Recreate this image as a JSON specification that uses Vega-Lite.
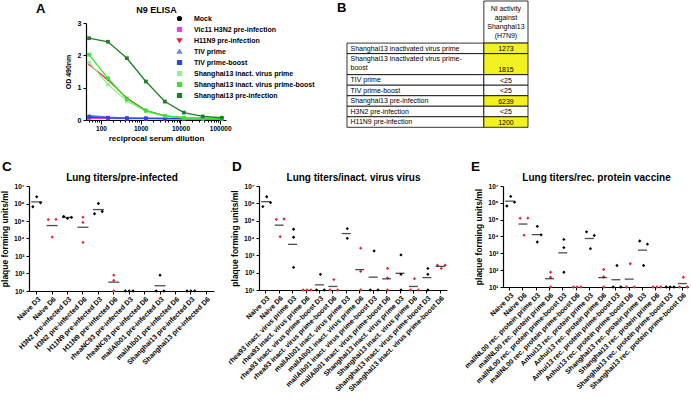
{
"$schema": "https://vega.github.io/schema/vega-lite/v6.json",
"padding": {"left": 0, "top": 0, "right": 0, "bottom": 0},
"config": {
  "font": "Liberation Sans",
  "view": {"stroke": null},
  "axis": {"grid": false, "labelFontWeight": "bold", "titleFontWeight": "bold", "domainColor": "#000", "tickColor": "#000", "labelColor": "#000", "titleColor": "#000", "domainWidth": 1.2, "tickWidth": 1},
  "legend": {"labelColor": "#000"},
  "title": {"color": "#000"}
},
"datasets": {
  "elisa": [
    {"serum":"Mock","dil":50,"od":0.07},{"serum":"Mock","dil":150,"od":0.06},{"serum":"Mock","dil":450,"od":0.05},{"serum":"Mock","dil":1350,"od":0.05},{"serum":"Mock","dil":4050,"od":0.04},{"serum":"Mock","dil":12150,"od":0.04},{"serum":"Mock","dil":36450,"od":0.04},{"serum":"Mock","dil":109350,"od":0.04},
    {"serum":"Vic11 H3N2 pre-infection","dil":50,"od":0.05},{"serum":"Vic11 H3N2 pre-infection","dil":150,"od":0.05},{"serum":"Vic11 H3N2 pre-infection","dil":450,"od":0.04},{"serum":"Vic11 H3N2 pre-infection","dil":1350,"od":0.04},{"serum":"Vic11 H3N2 pre-infection","dil":4050,"od":0.04},{"serum":"Vic11 H3N2 pre-infection","dil":12150,"od":0.04},{"serum":"Vic11 H3N2 pre-infection","dil":36450,"od":0.04},{"serum":"Vic11 H3N2 pre-infection","dil":109350,"od":0.04},
    {"serum":"TIV prime","dil":50,"od":0.14},{"serum":"TIV prime","dil":150,"od":0.09},{"serum":"TIV prime","dil":450,"od":0.06},{"serum":"TIV prime","dil":1350,"od":0.05},{"serum":"TIV prime","dil":4050,"od":0.05},{"serum":"TIV prime","dil":12150,"od":0.05},{"serum":"TIV prime","dil":36450,"od":0.04},{"serum":"TIV prime","dil":109350,"od":0.04},
    {"serum":"TIV prime-boost","dil":50,"od":0.10},{"serum":"TIV prime-boost","dil":150,"od":0.07},{"serum":"TIV prime-boost","dil":450,"od":0.06},{"serum":"TIV prime-boost","dil":1350,"od":0.05},{"serum":"TIV prime-boost","dil":4050,"od":0.05},{"serum":"TIV prime-boost","dil":12150,"od":0.04},{"serum":"TIV prime-boost","dil":36450,"od":0.04},{"serum":"TIV prime-boost","dil":109350,"od":0.04},
    {"serum":"H11N9 pre-infection","dil":50,"od":1.72},{"serum":"H11N9 pre-infection","dil":150,"od":1.24},{"serum":"H11N9 pre-infection","dil":450,"od":0.67},{"serum":"H11N9 pre-infection","dil":1350,"od":0.30},{"serum":"H11N9 pre-infection","dil":4050,"od":0.13},{"serum":"H11N9 pre-infection","dil":12150,"od":0.07},{"serum":"H11N9 pre-infection","dil":36450,"od":0.05},{"serum":"H11N9 pre-infection","dil":109350,"od":0.05},
    {"serum":"Shanghai13 inact. virus prime","dil":50,"od":1.78},{"serum":"Shanghai13 inact. virus prime","dil":150,"od":1.10},{"serum":"Shanghai13 inact. virus prime","dil":450,"od":0.58},{"serum":"Shanghai13 inact. virus prime","dil":1350,"od":0.27},{"serum":"Shanghai13 inact. virus prime","dil":4050,"od":0.12},{"serum":"Shanghai13 inact. virus prime","dil":12150,"od":0.07},{"serum":"Shanghai13 inact. virus prime","dil":36450,"od":0.05},{"serum":"Shanghai13 inact. virus prime","dil":109350,"od":0.05},
    {"serum":"Shanghai13 inact. virus prime-boost","dil":50,"od":2.02},{"serum":"Shanghai13 inact. virus prime-boost","dil":150,"od":1.29},{"serum":"Shanghai13 inact. virus prime-boost","dil":450,"od":0.64},{"serum":"Shanghai13 inact. virus prime-boost","dil":1350,"od":0.29},{"serum":"Shanghai13 inact. virus prime-boost","dil":4050,"od":0.12},{"serum":"Shanghai13 inact. virus prime-boost","dil":12150,"od":0.07},{"serum":"Shanghai13 inact. virus prime-boost","dil":36450,"od":0.05},{"serum":"Shanghai13 inact. virus prime-boost","dil":109350,"od":0.05},
    {"serum":"Shanghai13 pre-infection","dil":50,"od":2.53},{"serum":"Shanghai13 pre-infection","dil":150,"od":2.42},{"serum":"Shanghai13 pre-infection","dil":450,"od":1.91},{"serum":"Shanghai13 pre-infection","dil":1350,"od":1.19},{"serum":"Shanghai13 pre-infection","dil":4050,"od":0.57},{"serum":"Shanghai13 pre-infection","dil":12150,"od":0.23},{"serum":"Shanghai13 pre-infection","dil":36450,"od":0.11},{"serum":"Shanghai13 pre-infection","dil":109350,"od":0.07}
  ],
  "nitable": [
    {"label": null, "value": "NI activity\nagainst\nShanghai13\n(H7N9)", "top": 0, "bottom": 4, "hl": false},
    {"label": "Shanghai13 inactivated virus prime", "value": "1273", "top": 4, "bottom": 5, "hl": true},
    {"label": "Shanghai13 inactivated virus prime-\nboost", "value": "1815", "top": 5, "bottom": 7, "hl": true},
    {"label": "TIV prime", "value": "<25", "top": 7, "bottom": 8, "hl": false},
    {"label": "TIV prime-boost", "value": "<25", "top": 8, "bottom": 9, "hl": false},
    {"label": "Shanghai13 pre-infection", "value": "6239", "top": 9, "bottom": 10, "hl": true},
    {"label": "H3N2 pre-infection", "value": "<25", "top": 10, "bottom": 11, "hl": false},
    {"label": "H11N9 pre-infection", "value": "1200", "top": 11, "bottom": 12, "hl": true}
  ],
  "titers": [
    {"p":"C","g":"Naive D3","m":1,"v":650000},{"p":"C","g":"Naive D3","m":2,"v":2400000},{"p":"C","g":"Naive D3","m":3,"v":1100000},
    {"p":"C","g":"Naive D6","m":1,"v":120000},{"p":"C","g":"Naive D6","m":2,"v":12000},{"p":"C","g":"Naive D6","m":3,"v":125000},
    {"p":"C","g":"H3N2 pre-infected D3","m":1,"v":180000},{"p":"C","g":"H3N2 pre-infected D3","m":2,"v":140000},{"p":"C","g":"H3N2 pre-infected D3","m":3,"v":160000},
    {"p":"C","g":"H3N2 pre-infected D6","m":2,"v":165000},{"p":"C","g":"H3N2 pre-infected D6","m":2,"v":83000},{"p":"C","g":"H3N2 pre-infected D6","m":2,"v":6000},
    {"p":"C","g":"H11N9 pre-infected D3","m":1,"v":260000},{"p":"C","g":"H11N9 pre-infected D3","m":2,"v":1000000},{"p":"C","g":"H11N9 pre-infected D3","m":3,"v":350000},
    {"p":"C","g":"H11N9 pre-infected D6","m":2,"v":80},{"p":"C","g":"H11N9 pre-infected D6","m":2,"v":40},{"p":"C","g":"H11N9 pre-infected D6","m":2,"v":10},
    {"p":"C","g":"rheaNC93 pre-infected D3","m":1,"v":10},{"p":"C","g":"rheaNC93 pre-infected D3","m":2,"v":10},{"p":"C","g":"rheaNC93 pre-infected D3","m":3,"v":10},
    {"p":"C","g":"mallAlb01 pre-infected D3","m":1,"v":10},{"p":"C","g":"mallAlb01 pre-infected D3","m":2,"v":80},{"p":"C","g":"mallAlb01 pre-infected D3","m":3,"v":10},
    {"p":"C","g":"Shanghai13 pre-infected D3","m":1,"v":10},{"p":"C","g":"Shanghai13 pre-infected D3","m":2,"v":10},{"p":"C","g":"Shanghai13 pre-infected D3","m":3,"v":10},
    {"p":"D","g":"Naive D3","m":1,"v":650000},{"p":"D","g":"Naive D3","m":2,"v":2400000},{"p":"D","g":"Naive D3","m":3,"v":1100000},
    {"p":"D","g":"Naive D6","m":1,"v":120000},{"p":"D","g":"Naive D6","m":2,"v":12000},{"p":"D","g":"Naive D6","m":3,"v":125000},
    {"p":"D","g":"rhea93 inact. virus prime D3","m":2,"v":32000},{"p":"D","g":"rhea93 inact. virus prime D3","m":2,"v":11000},{"p":"D","g":"rhea93 inact. virus prime D3","m":2,"v":200},
    {"p":"D","g":"rhea93 inact. virus prime D6","m":1,"v":10},{"p":"D","g":"rhea93 inact. virus prime D6","m":2,"v":10},{"p":"D","g":"rhea93 inact. virus prime D6","m":3,"v":10},
    {"p":"D","g":"rhea93 inact. virus prime-boost D3","m":1,"v":10},{"p":"D","g":"rhea93 inact. virus prime-boost D3","m":2,"v":80},{"p":"D","g":"rhea93 inact. virus prime-boost D3","m":3,"v":10},
    {"p":"D","g":"rhea93 inact. virus prime-boost D6","m":1,"v":10},{"p":"D","g":"rhea93 inact. virus prime-boost D6","m":2,"v":40},{"p":"D","g":"rhea93 inact. virus prime-boost D6","m":3,"v":10},
    {"p":"D","g":"mallAlb01 inact. virus prime D3","m":2,"v":35000},{"p":"D","g":"mallAlb01 inact. virus prime D3","m":2,"v":9600},
    {"p":"D","g":"mallAlb01 inact. virus prime D6","m":2,"v":2600},{"p":"D","g":"mallAlb01 inact. virus prime D6","m":2,"v":120},{"p":"D","g":"mallAlb01 inact. virus prime D6","m":2,"v":10},
    {"p":"D","g":"mallAlb01 inact. virus prime-boost D3","m":1,"v":10},{"p":"D","g":"mallAlb01 inact. virus prime-boost D3","m":2,"v":1800},{"p":"D","g":"mallAlb01 inact. virus prime-boost D3","m":3,"v":10},
    {"p":"D","g":"mallAlb01 inact. virus prime-boost D6","m":2,"v":175},{"p":"D","g":"mallAlb01 inact. virus prime-boost D6","m":2,"v":50},{"p":"D","g":"mallAlb01 inact. virus prime-boost D6","m":2,"v":10},
    {"p":"D","g":"Shanghai13 inact. virus prime D3","m":2,"v":1050},{"p":"D","g":"Shanghai13 inact. virus prime D3","m":2,"v":80},{"p":"D","g":"Shanghai13 inact. virus prime D3","m":2,"v":10},
    {"p":"D","g":"Shanghai13 inact. virus prime D6","m":1,"v":10},{"p":"D","g":"Shanghai13 inact. virus prime D6","m":2,"v":45},{"p":"D","g":"Shanghai13 inact. virus prime D6","m":3,"v":10},
    {"p":"D","g":"Shanghai13 inact. virus prime-boost D3","m":2,"v":175},{"p":"D","g":"Shanghai13 inact. virus prime-boost D3","m":2,"v":80},{"p":"D","g":"Shanghai13 inact. virus prime-boost D3","m":2,"v":10},
    {"p":"D","g":"Shanghai13 inact. virus prime-boost D6","m":1,"v":270},{"p":"D","g":"Shanghai13 inact. virus prime-boost D6","m":3,"v":270},{"p":"D","g":"Shanghai13 inact. virus prime-boost D6","m":2,"v":175},
    {"p":"E","g":"Naive D3","m":1,"v":650000},{"p":"E","g":"Naive D3","m":2,"v":2400000},{"p":"E","g":"Naive D3","m":3,"v":1100000},
    {"p":"E","g":"Naive D6","m":1,"v":120000},{"p":"E","g":"Naive D6","m":2,"v":12000},{"p":"E","g":"Naive D6","m":3,"v":125000},
    {"p":"E","g":"mallNL00 rec. protein prime D3","m":2,"v":40000},{"p":"E","g":"mallNL00 rec. protein prime D3","m":3,"v":12500},{"p":"E","g":"mallNL00 rec. protein prime D3","m":2,"v":4700},
    {"p":"E","g":"mallNL00 rec. protein prime D6","m":2,"v":75},{"p":"E","g":"mallNL00 rec. protein prime D6","m":2,"v":38},{"p":"E","g":"mallNL00 rec. protein prime D6","m":2,"v":10},
    {"p":"E","g":"mallNL00 rec. protein prime-boost D3","m":2,"v":6700},{"p":"E","g":"mallNL00 rec. protein prime-boost D3","m":2,"v":2200},{"p":"E","g":"mallNL00 rec. protein prime-boost D3","m":2,"v":75},
    {"p":"E","g":"mallNL00 rec. protein prime-boost D6","m":1,"v":10},{"p":"E","g":"mallNL00 rec. protein prime-boost D6","m":2,"v":10},{"p":"E","g":"mallNL00 rec. protein prime-boost D6","m":3,"v":10},
    {"p":"E","g":"Anhui13 rec. protein prime D3","m":1,"v":19000},{"p":"E","g":"Anhui13 rec. protein prime D3","m":3,"v":11500},{"p":"E","g":"Anhui13 rec. protein prime D3","m":2,"v":1900},
    {"p":"E","g":"Anhui13 rec. protein prime D6","m":2,"v":110},{"p":"E","g":"Anhui13 rec. protein prime D6","m":2,"v":40},{"p":"E","g":"Anhui13 rec. protein prime D6","m":2,"v":10},
    {"p":"E","g":"Anhui13 rec. protein prime-boost D3","m":1,"v":10},{"p":"E","g":"Anhui13 rec. protein prime-boost D3","m":2,"v":190},{"p":"E","g":"Anhui13 rec. protein prime-boost D3","m":3,"v":10},
    {"p":"E","g":"Anhui13 rec. protein prime-boost D6","m":1,"v":10},{"p":"E","g":"Anhui13 rec. protein prime-boost D6","m":2,"v":240},{"p":"E","g":"Anhui13 rec. protein prime-boost D6","m":3,"v":10},
    {"p":"E","g":"Shanghai13 rec. protein prime D3","m":1,"v":5400},{"p":"E","g":"Shanghai13 rec. protein prime D3","m":3,"v":3500},{"p":"E","g":"Shanghai13 rec. protein prime D3","m":2,"v":190},
    {"p":"E","g":"Shanghai13 rec. protein prime D6","m":1,"v":10},{"p":"E","g":"Shanghai13 rec. protein prime D6","m":2,"v":10},{"p":"E","g":"Shanghai13 rec. protein prime D6","m":3,"v":10},
    {"p":"E","g":"Shanghai13 rec. protein prime-boost D3","m":1,"v":10},{"p":"E","g":"Shanghai13 rec. protein prime-boost D3","m":2,"v":10},{"p":"E","g":"Shanghai13 rec. protein prime-boost D3","m":3,"v":10},
    {"p":"E","g":"Shanghai13 rec. protein prime-boost D6","m":1,"v":10},{"p":"E","g":"Shanghai13 rec. protein prime-boost D6","m":2,"v":38},{"p":"E","g":"Shanghai13 rec. protein prime-boost D6","m":3,"v":10}
  ],
  "means": [
    {"p":"C","g":"Naive D3","v":1250000},{"p":"C","g":"Naive D6","v":55000},{"p":"C","g":"H3N2 pre-infected D3","v":160000},{"p":"C","g":"H3N2 pre-infected D6","v":44000},{"p":"C","g":"H11N9 pre-infected D3","v":450000},{"p":"C","g":"H11N9 pre-infected D6","v":32},{"p":"C","g":"mallAlb01 pre-infected D3","v":20},
    {"p":"D","g":"Naive D3","v":1250000},{"p":"D","g":"Naive D6","v":55000},{"p":"D","g":"rhea93 inact. virus prime D3","v":4300},{"p":"D","g":"rhea93 inact. virus prime-boost D3","v":20},{"p":"D","g":"rhea93 inact. virus prime-boost D6","v":16},{"p":"D","g":"mallAlb01 inact. virus prime D3","v":18000},{"p":"D","g":"mallAlb01 inact. virus prime D6","v":150},{"p":"D","g":"mallAlb01 inact. virus prime-boost D3","v":55},{"p":"D","g":"mallAlb01 inact. virus prime-boost D6","v":44},{"p":"D","g":"Shanghai13 inact. virus prime D3","v":92},{"p":"D","g":"Shanghai13 inact. virus prime D6","v":16},{"p":"D","g":"Shanghai13 inact. virus prime-boost D3","v":52},{"p":"D","g":"Shanghai13 inact. virus prime-boost D6","v":230},
    {"p":"E","g":"Naive D3","v":1250000},{"p":"E","g":"Naive D6","v":55000},{"p":"E","g":"mallNL00 rec. protein prime D3","v":13000},{"p":"E","g":"mallNL00 rec. protein prime D6","v":31},{"p":"E","g":"mallNL00 rec. protein prime-boost D3","v":1070},{"p":"E","g":"Anhui13 rec. protein prime D3","v":7600},{"p":"E","g":"Anhui13 rec. protein prime D6","v":36},{"p":"E","g":"Anhui13 rec. protein prime-boost D3","v":27},{"p":"E","g":"Anhui13 rec. protein prime-boost D6","v":29},{"p":"E","g":"Shanghai13 rec. protein prime D3","v":1550},{"p":"E","g":"Shanghai13 rec. protein prime-boost D6","v":16}
  ],
  "nd": [
    {"g":"rheaNC93 pre-infected D6"},{"g":"mallAlb01 pre-infected D6"},{"g":"Shanghai13 pre-infected D6"}
  ]
},
"spacing": 163,
"bounds": "flush",
"vconcat": [
  {
    "spacing": 10,
    "bounds": "flush",
    "hconcat": [
      {"width": 47, "height": 97, "data": {"values": [{"k": 1}]}, "mark": {"type": "point", "opacity": 0}, "encoding": {}},
      {
        "width": 140, "height": 97,
        "title": {"text": "A", "anchor": "start", "frame": "group", "dx": -50, "offset": -21, "fontSize": 13, "fontWeight": "bold", "baseline": "alphabetic"},
        "data": {"name": "elisa"},
        "encoding": {
          "y": {"field": "od", "type": "quantitative", "scale": {"domain": [0, 3], "nice": false}, "axis": {"values": [0,1,2,3], "title": "OD 490nm", "titleFontSize": 7, "labelFontSize": 7, "tickSize": 3, "titlePadding": 6}},
          "color": {"field": "serum", "type": "nominal",
            "scale": {"domain": ["Mock","Vic11 H3N2 pre-infection","H11N9 pre-infection","TIV prime","TIV prime-boost","Shanghai13 inact. virus prime","Shanghai13 inact. virus prime-boost","Shanghai13 pre-infection"],
                      "range": ["#000000","#ee3ee8","#e8282e","#6a86f0","#2a46e6","#98ef8e","#33e633","#1f7f24"]},
            "legend": {"orient": "none", "legendX": 147, "legendY": -8, "title": null, "labelFontSize": 7, "labelFontWeight": "bold", "symbolSize": 14, "rowPadding": 0, "labelOffset": 11}}
        },
        "layer": [
          {"mark": {"type": "line", "strokeWidth": 1.3},
           "encoding": {"x": {"field": "dil", "type": "quantitative", "scale": {"type": "log", "domain": [42, 140000], "nice": false},
             "axis": {"values": [50,60,70,80,90,100,200,300,400,500,600,700,800,900,1000,2000,3000,4000,5000,6000,7000,8000,9000,10000,20000,30000,40000,50000,60000,70000,80000,90000,100000],
                      "labelExpr": "indexof([100,1000,10000,100000], datum.value) >= 0 ? format(datum.value, 'd') : ''",
                      "tickSize": {"condition": {"test": "indexof([100,1000,10000,100000], datum.value) >= 0", "value": 4}, "value": 2},
                      "title": "reciprocal serum dilution", "titleFontSize": 8, "labelFontSize": 6.5, "labelFlush": false, "labelOverlap": false, "titlePadding": 3, "labelPadding": 1}}}},
          {"mark": {"type": "point", "filled": true, "size": 14, "opacity": 1},
           "encoding": {"x": {"field": "dil", "type": "quantitative", "scale": {"type": "log", "domain": [42, 140000], "nice": false},
             "axis": {"orient": "top", "title": "N9 ELISA", "labels": false, "ticks": false, "domain": false, "titleFontSize": 9, "titlePadding": 9, "minExtent": 0, "maxExtent": 0}},
             "shape": {"field": "serum", "type": "nominal",
               "scale": {"domain": ["Mock","Vic11 H3N2 pre-infection","H11N9 pre-infection","TIV prime","TIV prime-boost","Shanghai13 inact. virus prime","Shanghai13 inact. virus prime-boost","Shanghai13 pre-infection"],
                         "range": ["circle","square","triangle-down","triangle-up","square","square","square","square"]},
               "legend": {"orient": "none", "legendX": 147, "legendY": -8, "title": null, "labelFontSize": 7, "labelFontWeight": "bold", "symbolSize": 14, "rowPadding": 0, "labelOffset": 11}}}}
        ],
        "resolve": {"axis": {"x": "independent"}}
      },
      {
        "width": 292, "height": 97,
        "title": {"text": "B", "anchor": "start", "frame": "group", "dx": 101, "offset": -24, "fontSize": 13, "fontWeight": "bold", "baseline": "alphabetic"},
        "data": {"name": "nitable"},
        "layer": [
          {"transform": [{"filter": "isValid(datum.label)"}],
           "mark": {"type": "rect", "fill": "white", "stroke": "black", "strokeWidth": 0.8},
           "encoding": {
             "x": {"datum": 0, "type": "quantitative", "scale": {"domain": [-2.514, 4.1], "nice": false, "zero": false}, "axis": null},
             "x2": {"datum": 3.1},
             "y": {"field": "top", "type": "quantitative", "scale": {"domain": [2.09, 11.306], "reverse": true, "nice": false, "zero": false}, "axis": null},
             "y2": {"field": "bottom"}}},
          {"mark": {"type": "rect", "stroke": "black", "strokeWidth": 0.8},
           "encoding": {
             "x": {"datum": 3.1, "type": "quantitative", "scale": {"domain": [-2.514, 4.1], "nice": false, "zero": false}, "axis": null},
             "x2": {"datum": 4.1},
             "y": {"field": "top", "type": "quantitative", "scale": {"domain": [2.09, 11.306], "reverse": true, "nice": false, "zero": false}, "axis": null},
             "y2": {"field": "bottom"},
             "fill": {"condition": {"test": "datum.hl", "value": "#f2f222"}, "value": "white"}}},
          {"transform": [{"filter": "isValid(datum.label)"}],
           "mark": {"type": "text", "align": "left", "baseline": "top", "dx": 3.5, "dy": 1.5, "fontSize": 7, "lineBreak": "\n", "lineHeight": 8.5, "color": "black"},
           "encoding": {
             "x": {"datum": 0, "type": "quantitative", "scale": {"domain": [-2.514, 4.1], "nice": false, "zero": false}, "axis": null},
             "y": {"field": "top", "type": "quantitative", "scale": {"domain": [2.09, 11.306], "reverse": true, "nice": false, "zero": false}, "axis": null},
             "text": {"field": "label"}}},
          {"transform": [{"filter": "isValid(datum.label)"}],
           "mark": {"type": "text", "align": "center", "baseline": "bottom", "dy": -1.5, "fontSize": 7, "color": "black"},
           "encoding": {
             "x": {"datum": 3.6, "type": "quantitative", "scale": {"domain": [-2.514, 4.1], "nice": false, "zero": false}, "axis": null},
             "y": {"field": "bottom", "type": "quantitative", "scale": {"domain": [2.09, 11.306], "reverse": true, "nice": false, "zero": false}, "axis": null},
             "text": {"field": "value"}}},
          {"transform": [{"filter": "!isValid(datum.label)"}],
           "mark": {"type": "text", "align": "center", "baseline": "top", "dy": 4, "fontSize": 7, "lineBreak": "\n", "lineHeight": 9, "color": "black"},
           "encoding": {
             "x": {"datum": 3.6, "type": "quantitative", "scale": {"domain": [-2.514, 4.1], "nice": false, "zero": false}, "axis": null},
             "y": {"field": "top", "type": "quantitative", "scale": {"domain": [2.09, 11.306], "reverse": true, "nice": false, "zero": false}, "axis": null},
             "text": {"field": "value"}}}
        ]
      }
    ]
  },
  {
    "spacing": 45,
    "bounds": "flush",
    "hconcat": [
      {
        "width": 185, "height": 105,
        "title": {"text": "C", "anchor": "start", "frame": "group", "dx": -27, "offset": -12, "fontSize": 13.5, "fontWeight": "bold", "baseline": "alphabetic"},
        "encoding": {"y": {"field": "v", "type": "quantitative", "scale": {"type": "log", "domain": [10, 10000000], "nice": false},
          "axis": {"values": [10,100,1000,10000,100000,1000000,10000000], "labelExpr": "'10' + ['⁰','¹','²','³','⁴','⁵','⁶','⁷'][round(log(datum.value)/LN10)]", "title": "plaque forming units/ml", "titleFontSize": 8.5, "labelFontSize": 6.5, "tickSize": 3, "labelOverlap": false, "labelFlush": false}}},
        "layer": [
          {"data": {"name": "titers"}, "transform": [{"filter": "datum.p === 'C'"}],
           "mark": {"type": "point", "shape": "diamond", "filled": true, "size": 11, "opacity": 1},
           "encoding": {
             "x": {"field": "g", "type": "nominal", "scale": {"type": "band", "domain": ["Naive D3","Naive D6","H3N2 pre-infected D3","H3N2 pre-infected D6","H11N9 pre-infected D3","H11N9 pre-infected D6","rheaNC93 pre-infected D3","rheaNC93 pre-infected D6","mallAlb01 pre-infected D3","mallAlb01 pre-infected D6","Shanghai13 pre-infected D3","Shanghai13 pre-infected D6"], "paddingInner": 0, "paddingOuter": 0},
                   "axis": {"title": null, "labelAngle": -45, "labelFontSize": 7, "tickSize": 3, "labelPadding": 1, "labelLimit": 300}},
             "xOffset": {"field": "m", "type": "nominal", "scale": {"paddingOuter": 1.2}},
             "color": {"condition": {"test": "indexof(datum.g, 'D6') >= 0", "value": "#e8253a"}, "value": "black"}}},
          {"data": {"name": "means"}, "transform": [{"filter": "datum.p === 'C'"}],
           "mark": {"type": "tick", "color": "black", "thickness": 1.3, "size": 11},
           "encoding": {
             "x": {"field": "g", "type": "nominal", "scale": {"type": "band", "domain": ["Naive D3","Naive D6","H3N2 pre-infected D3","H3N2 pre-infected D6","H11N9 pre-infected D3","H11N9 pre-infected D6","rheaNC93 pre-infected D3","rheaNC93 pre-infected D6","mallAlb01 pre-infected D3","mallAlb01 pre-infected D6","Shanghai13 pre-infected D3","Shanghai13 pre-infected D6"], "paddingInner": 0, "paddingOuter": 0},
                   "axis": {"orient": "top", "title": "Lung titers/pre-infected", "labels": false, "ticks": false, "domain": false, "titleFontSize": 10, "titlePadding": 4, "minExtent": 0, "maxExtent": 0}}}},
          {"data": {"name": "nd"},
           "mark": {"type": "text", "text": "ND", "fontSize": 7, "fontWeight": "bold", "baseline": "bottom", "dy": -1, "color": "black"},
           "encoding": {
             "x": {"field": "g", "type": "nominal", "scale": {"type": "band", "domain": ["Naive D3","Naive D6","H3N2 pre-infected D3","H3N2 pre-infected D6","H11N9 pre-infected D3","H11N9 pre-infected D6","rheaNC93 pre-infected D3","rheaNC93 pre-infected D6","mallAlb01 pre-infected D3","mallAlb01 pre-infected D6","Shanghai13 pre-infected D3","Shanghai13 pre-infected D6"], "paddingInner": 0, "paddingOuter": 0}, "axis": null},
             "y": {"datum": 10}}}
        ],
        "resolve": {"axis": {"x": "independent"}}
      },
      {
        "spacing": 56,
        "bounds": "flush",
        "hconcat": [
          {
            "width": 188, "height": 104,
            "title": {"text": "D", "anchor": "start", "frame": "group", "dx": -27, "offset": -12, "fontSize": 13.5, "fontWeight": "bold", "baseline": "alphabetic"},
            "encoding": {"y": {"field": "v", "type": "quantitative", "scale": {"type": "log", "domain": [10, 10000000], "nice": false},
              "axis": {"values": [10,100,1000,10000,100000,1000000,10000000], "labelExpr": "'10' + ['⁰','¹','²','³','⁴','⁵','⁶','⁷'][round(log(datum.value)/LN10)]", "title": "plaque forming units/ml", "titleFontSize": 8.5, "labelFontSize": 6.5, "tickSize": 3, "labelOverlap": false, "labelFlush": false}}},
            "layer": [
              {"data": {"name": "titers"}, "transform": [{"filter": "datum.p === 'D'"}],
               "mark": {"type": "point", "shape": "diamond", "filled": true, "size": 11, "opacity": 1},
               "encoding": {
                 "x": {"field": "g", "type": "nominal", "scale": {"type": "band", "domain": ["Naive D3","Naive D6","rhea93 inact. virus prime D3","rhea93 inact. virus prime D6","rhea93 inact. virus prime-boost D3","rhea93 inact. virus prime-boost D6","mallAlb01 inact. virus prime D3","mallAlb01 inact. virus prime D6","mallAlb01 inact. virus prime-boost D3","mallAlb01 inact. virus prime-boost D6","Shanghai13 inact. virus prime D3","Shanghai13 inact. virus prime D6","Shanghai13 inact. virus prime-boost D3","Shanghai13 inact. virus prime-boost D6"], "paddingInner": 0, "paddingOuter": 0},
                       "axis": {"title": null, "labelAngle": -45, "labelFontSize": 7, "tickSize": 3, "labelPadding": 1, "labelLimit": 300}},
                 "xOffset": {"field": "m", "type": "nominal", "scale": {"paddingOuter": 1.2}},
                 "color": {"condition": {"test": "indexof(datum.g, 'D6') >= 0", "value": "#e8253a"}, "value": "black"}}},
              {"data": {"name": "means"}, "transform": [{"filter": "datum.p === 'D'"}],
               "mark": {"type": "tick", "color": "black", "thickness": 1.3, "size": 9},
               "encoding": {
                 "x": {"field": "g", "type": "nominal", "scale": {"type": "band", "domain": ["Naive D3","Naive D6","rhea93 inact. virus prime D3","rhea93 inact. virus prime D6","rhea93 inact. virus prime-boost D3","rhea93 inact. virus prime-boost D6","mallAlb01 inact. virus prime D3","mallAlb01 inact. virus prime D6","mallAlb01 inact. virus prime-boost D3","mallAlb01 inact. virus prime-boost D6","Shanghai13 inact. virus prime D3","Shanghai13 inact. virus prime D6","Shanghai13 inact. virus prime-boost D3","Shanghai13 inact. virus prime-boost D6"], "paddingInner": 0, "paddingOuter": 0},
                       "axis": {"orient": "top", "title": "Lung titers/inact. virus virus", "labels": false, "ticks": false, "domain": false, "titleFontSize": 10, "titlePadding": 4, "minExtent": 0, "maxExtent": 0}}}}
            ],
            "resolve": {"axis": {"x": "independent"}}
          },
          {
            "width": 186, "height": 101,
            "title": {"text": "E", "anchor": "start", "frame": "group", "dx": -32, "offset": -12, "fontSize": 13.5, "fontWeight": "bold", "baseline": "alphabetic"},
            "encoding": {"y": {"field": "v", "type": "quantitative", "scale": {"type": "log", "domain": [10, 10000000], "nice": false},
              "axis": {"values": [10,100,1000,10000,100000,1000000,10000000], "labelExpr": "'10' + ['⁰','¹','²','³','⁴','⁵','⁶','⁷'][round(log(datum.value)/LN10)]", "title": "plaque forming units/ml", "titleFontSize": 8.5, "labelFontSize": 6.5, "tickSize": 3, "labelOverlap": false, "labelFlush": false}}},
            "layer": [
              {"data": {"name": "titers"}, "transform": [{"filter": "datum.p === 'E'"}],
               "mark": {"type": "point", "shape": "diamond", "filled": true, "size": 11, "opacity": 1},
               "encoding": {
                 "x": {"field": "g", "type": "nominal", "scale": {"type": "band", "domain": ["Naive D3","Naive D6","mallNL00 rec. protein prime D3","mallNL00 rec. protein prime D6","mallNL00 rec. protein prime-boost D3","mallNL00 rec. protein prime-boost D6","Anhui13 rec. protein prime D3","Anhui13 rec. protein prime D6","Anhui13 rec. protein prime-boost D3","Anhui13 rec. protein prime-boost D6","Shanghai13 rec. protein prime D3","Shanghai13 rec. protein prime D6","Shanghai13 rec. protein prime-boost D3","Shanghai13 rec. protein prime-boost D6"], "paddingInner": 0, "paddingOuter": 0},
                       "axis": {"title": null, "labelAngle": -45, "labelFontSize": 7, "tickSize": 3, "labelPadding": 1, "labelLimit": 300}},
                 "xOffset": {"field": "m", "type": "nominal", "scale": {"paddingOuter": 1.2}},
                 "color": {"condition": {"test": "indexof(datum.g, 'D6') >= 0", "value": "#e8253a"}, "value": "black"}}},
              {"data": {"name": "means"}, "transform": [{"filter": "datum.p === 'E'"}],
               "mark": {"type": "tick", "color": "black", "thickness": 1.3, "size": 9},
               "encoding": {
                 "x": {"field": "g", "type": "nominal", "scale": {"type": "band", "domain": ["Naive D3","Naive D6","mallNL00 rec. protein prime D3","mallNL00 rec. protein prime D6","mallNL00 rec. protein prime-boost D3","mallNL00 rec. protein prime-boost D6","Anhui13 rec. protein prime D3","Anhui13 rec. protein prime D6","Anhui13 rec. protein prime-boost D3","Anhui13 rec. protein prime-boost D6","Shanghai13 rec. protein prime D3","Shanghai13 rec. protein prime D6","Shanghai13 rec. protein prime-boost D3","Shanghai13 rec. protein prime-boost D6"], "paddingInner": 0, "paddingOuter": 0},
                       "axis": {"orient": "top", "title": "Lung titers/rec. protein vaccine", "labels": false, "ticks": false, "domain": false, "titleFontSize": 10, "titlePadding": 4, "minExtent": 0, "maxExtent": 0}}}}
            ],
            "resolve": {"axis": {"x": "independent"}}
          }
        ]
      }
    ]
  }
]
}
